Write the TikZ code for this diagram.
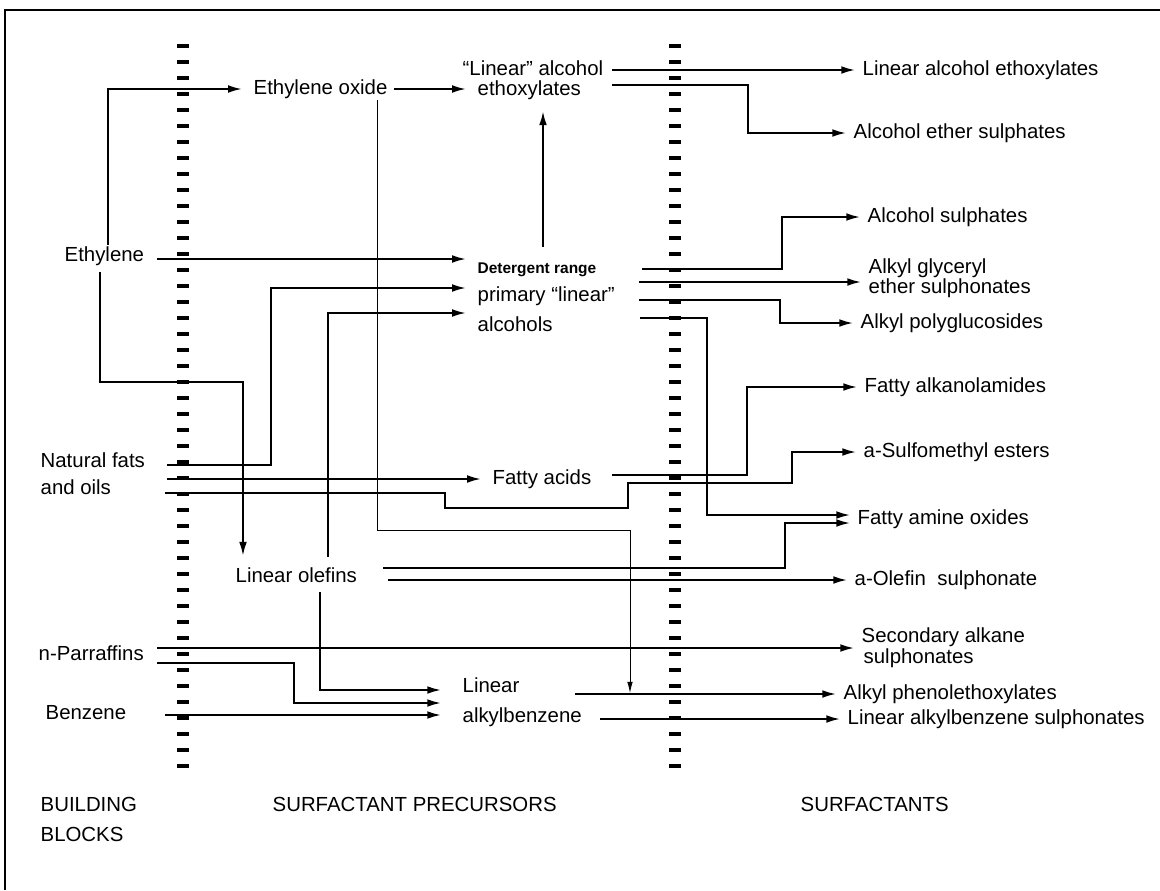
\documentclass[tikz,border=0pt]{standalone}
\usepackage{fontspec}
\setmainfont{Liberation Sans}
\usetikzlibrary{arrows.meta}

\tikzset{
  lbl/.style={anchor=west, inner sep=1pt, text height=10.5pt, text depth=3pt,
    font=\fontsize{14.5}{17}\selectfont},
  con/.style={line width=1.5pt},
  feed/.style={con, -{Latex[length=10pt,width=5.5pt]}, shorten >=7pt},
  labfeed/.style={feed, shorten >=14pt},
  prod/.style={con, -{Latex[length=10pt,width=5.5pt]}, shorten >=4pt},
  thinfeed/.style={line width=0.6pt, -{Latex[length=8pt,width=4pt]}},
  tickmark/.style={line width=2.2pt},
}

\begin{document}
\begin{tikzpicture}[x=0.025cm, y=-0.025cm]
    \useasboundingbox (0,0) rectangle (1160,890);
    \draw[line width=2pt] (5,890) -- (5,10) -- (1160,10);
    \foreach \y in {0,...,45} {
      \draw[tickmark] (177,46+16*\y) -- (189,46+16*\y);
      \draw[tickmark] (669,46+16*\y) -- (681,46+16*\y);
    }

    \node[lbl] (eth) at (63,256) {Ethylene};
    \node[lbl] (nat1) at (39,462) {Natural fats};
    \node[lbl] (nat2) at (39,489) {and oils};
    \node[lbl] (par) at (37,655) {n-Parraffins};
    \node[lbl] (ben) at (44,714) {Benzene};
    \node[lbl] (bb1) at (39,806) {BUILDING};
    \node[lbl] (bb2) at (39,836) {BLOCKS};

    \node[lbl] (eo) at (252,89) {Ethylene oxide};
    \node[lbl] (lin1) at (461,70) {“Linear” alcohol};
    \node[lbl] (lin2) at (476,90) {ethoxylates};
    \node[lbl, font=\fontsize{11}{13}\bfseries\selectfont] (det) at (476,268) {Detergent range};
    \node[lbl] (pri1) at (476,296) {primary “linear”};
    \node[lbl] (pri2) at (476,326) {alcohols};
    \node[lbl] (fa) at (491,479) {Fatty acids};
    \node[lbl] (lo) at (234,577) {Linear olefins};
    \node[lbl] (lab1) at (461,687) {Linear};
    \node[lbl] (lab2) at (461,717) {alkylbenzene};
    \node[lbl] (spc) at (271,806) {SURFACTANT PRECURSORS};

    \node[lbl] (s1) at (861,70) {Linear alcohol ethoxylates};
    \node[lbl] (s2) at (852,133) {Alcohol ether sulphates};
    \node[lbl] (s3) at (866,217) {Alcohol sulphates};
    \node[lbl] (s4a) at (867,268) {Alkyl glyceryl};
    \node[lbl] (s4b) at (867,288) {ether sulphonates};
    \node[lbl] (s5) at (859,323) {Alkyl polyglucosides};
    \node[lbl] (s6) at (863,387) {Fatty alkanolamides};
    \node[lbl] (s7) at (862,452) {a-Sulfomethyl esters};
    \node[lbl] (s8) at (856,519) {Fatty amine oxides};
    \node[lbl] (s9) at (853,580) {a-Olefin\ \ sulphonate};
    \node[lbl] (s10a) at (860,637) {Secondary alkane};
    \node[lbl] (s10b) at (862,658) {sulphonates};
    \node[lbl] (s11) at (842,694) {Alkyl phenolethoxylates};
    \node[lbl] (s12) at (846,719) {Linear alkylbenzene sulphonates};
    \node[lbl] (srf) at (799,806) {SURFACTANTS};

    \draw[feed] (eth.north) ++(4,0) |- (eo.west);
    \draw[feed] (eth.south) ++(-4,5) |- (243,382) -- (lo.north -| 243,0);
    \draw[feed] (157,259) -- (det.west |- 0,259);

    \draw[feed] (167,465) -| (271,288) -- (pri1.west |- 0,288);
    \draw[feed] (167,479) -- (fa.west);
    \draw[prod] (165,493) -| (445,508) -| (628,483) -| (792,452) -- (s7.west);

    \draw[feed] (eo.east) ++(5,0) -- (lin2.west |- eo.east);
    \draw[thinfeed] (eo.south -| 377,0) |- (630,530) -- (630,693);

    \draw[prod] (612,70) -- (s1.west);
    \draw[prod] (612,85) -| (748,133) -- (s2.west);
    \draw[feed] (543,247) -- (lin2.south -| 543,0);

    \draw[prod] (642,269) -| (782,217) -- (s3.west);
    \draw[prod] (639,282) -- (s4a.west |- 0,282);
    \draw[prod] (639,300) -| (780,323) -- (s5.west);
    \draw[prod] (640,318) -| (707,515) -- (s8.west |- 0,515);

    \draw[prod] (612,475) -| (747,387) -- (s6.west);

    \draw[feed] (328,557) |- (pri2.west |- 0,313);
    \draw[prod] (383,568) -| (785,523) -- (s8.west |- 0,523);
    \draw[prod] (388,580) -- (s9.west);
    \draw[labfeed] (320,592) |- (lab1.west |- 0,690);

    \draw[prod] (157,648) -- (s10a.west |- 0,648);
    \draw[labfeed] (157,663) -| (294,703) -- (lab1.west |- 0,703);
    \draw[labfeed] (165,715) -- (lab1.west |- 0,715);

    \draw[prod] (575,694) -- (s11.west);
    \draw[prod] (600,719) -- (s12.west);
\end{tikzpicture}
\end{document}
